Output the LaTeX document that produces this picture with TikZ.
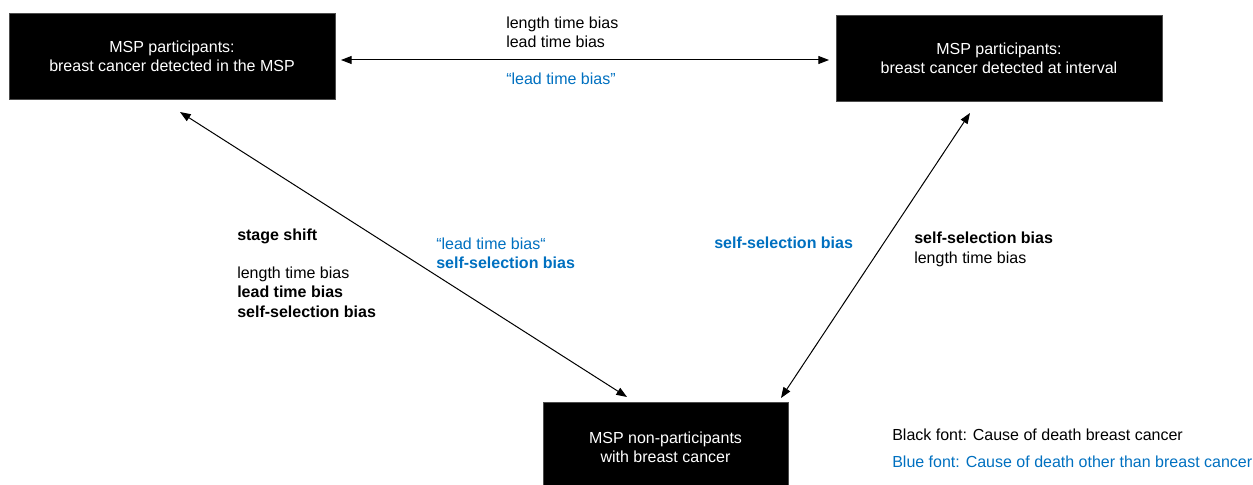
\documentclass[tikz,border=0pt]{standalone}
\usepackage{fontspec}
\setmainfont{Liberation Sans}
\usetikzlibrary{arrows.meta}
\definecolor{biasblue}{RGB}{0,112,192}
\begin{document}
\begin{tikzpicture}[x=0.75pt,y=-0.75pt,
  every node/.style={font=\fontsize{12}{14.5}\selectfont, inner sep=0pt},
  blackbox/.style={fill=black, draw=black!70, text=white, align=center, minimum width=244.5pt, minimum height=64.5pt},
  lbl/.style={anchor=west, align=left},
  conn/.style={line width=0.75pt, {Triangle[length=8pt,width=6pt]}-{Triangle[length=8pt,width=6pt]}}]
\useasboundingbox (0,0) rectangle (1253,485);
\node[blackbox] (b1) at (172,56) {MSP participants:\\breast cancer detected in the MSP};
\node[blackbox] (b2) at (999,58) {MSP participants:\\breast cancer detected at interval};
\node[blackbox, minimum width=183.75pt, minimum height=67.5pt] (b3) at (665.5,447) {MSP non-participants\\with breast cancer};
% connector ends
\coordinate (h1) at (341,60);
\coordinate (h2) at (829,60);
\coordinate (d1a) at (180,112);
\coordinate (d1b) at (627,397);
\coordinate (d2a) at (970,113);
\coordinate (d2b) at (781,398);
\draw[conn] (h1) -- (h2);
\draw[conn] (d1a) -- (d1b);
\draw[conn] (d2a) -- (d2b);
% labels
\node[lbl] (t1) at (506,32) {length time bias\\lead time bias};
\node[lbl, text=biasblue] (t2) at (506,79) {“lead time bias”};
\node[lbl] (t3) at (237,236) {\bfseries stage shift};
\node[lbl] (t4) at (237,292) {length time bias\\\textbf{lead time bias}\\\textbf{self-selection bias}};
\node[lbl, text=biasblue] (t5) at (436,253) {“lead time bias“\\\textbf{self-selection bias}};
\node[lbl, text=biasblue] (t6) at (714,243) {\bfseries self-selection bias};
\node[lbl] (t7) at (914,249.5) {\textbf{self-selection bias}\\length time bias};
\node[lbl] (l1) at (892,435) {Black font: Cause of death breast cancer};
\node[lbl, text=biasblue] (l2) at (892,462) {Blue font: Cause of death other than breast cancer};
\end{tikzpicture}
\end{document}
